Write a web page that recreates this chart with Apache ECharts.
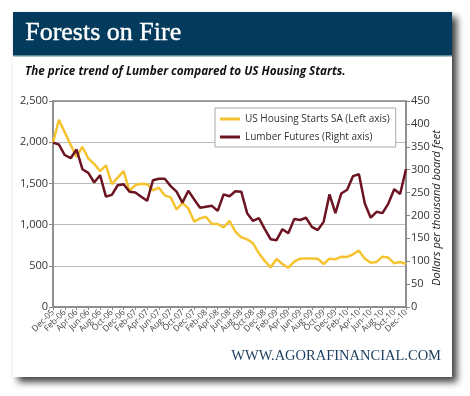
<!DOCTYPE html>
<html>
<head>
<meta charset="utf-8">
<script src="https://cdn.jsdelivr.net/npm/echarts@6/dist/echarts.min.js"></script>
<style>
html,body{margin:0;padding:0;background:#fff;}
#c{width:470px;height:396px;}
</style>
</head>
<body>
<div id="c"></div>
<script>
const months = ['Dec-05','Jan-06','Feb-06','Mar-06','Apr-06','May-06','Jun-06','Jul-06','Aug-06','Sep-06','Oct-06','Nov-06',
'Dec-06','Jan-07','Feb-07','Mar-07','Apr-07','May-07','Jun-07','Jul-07','Aug-07','Sep-07','Oct-07','Nov-07',
'Dec-07','Jan-08','Feb-08','Mar-08','Apr-08','May-08','Jun-08','Jul-08','Aug-08','Sep-08','Oct-08','Nov-08',
'Dec-08','Jan-09','Feb-09','Mar-09','Apr-09','May-09','Jun-09','Jul-09','Aug-09','Sep-09','Oct-09','Nov-09',
'Dec-09','Jan-10','Feb-10','Mar-10','Apr-10','May-10','Jun-10','Jul-10','Aug-10','Sep-10','Oct-10','Nov-10','Dec-10'];

const housingStarts = [1994,2273,2119,1969,1821,1942,1802,1737,1650,1720,1491,1570,
1649,1409,1480,1495,1490,1415,1448,1354,1330,1183,1264,1197,
1037,1076,1096,1007,1007,967,1044,914,846,821,773,651,
558,482,582,522,477,550,587,590,590,587,522,587,
578,611,607,640,684,587,538,547,611,600,530,547,522];

const lumberFutures = [359,355,332,325,344,301,293,272,288,241,245,266,
268,252,250,241,232,277,280,280,264,252,228,254,
235,217,219,221,210,246,242,253,252,205,188,194,
170,148,146,170,161,192,190,195,175,168,186,246,
205,248,256,286,290,226,195,208,205,226,257,247,301];

const chartTitle = 'Forests on Fire';
const chartSubtitle = 'The price trend of Lumber compared to US Housing Starts.';
const footerText = 'WWW.AGORAFINANCIAL.COM';
const seriesNames = ['US Housing Starts SA (Left axis)', 'Lumber Futures (Right axis)'];
const rightAxisName = 'Dollars per thousand board feet';

const chart = echarts.init(document.getElementById('c'));
chart.setOption({
  animation: false,
  backgroundColor: '#ffffff',
  graphic: [
    { type: 'rect', z: 0, shape: { x: 13, y: 12, width: 439, height: 365 },
      style: { fill: '#ffffff', shadowBlur: 7, shadowOffsetX: 5, shadowOffsetY: 5, shadowColor: 'rgba(0,0,0,0.75)' } },
    { type: 'rect', z: 1, shape: { x: 13, y: 12, width: 439, height: 44 },
      style: { fill: '#043a5b' } },
    { type: 'rect', z: 1, shape: { x: 13, y: 55, width: 439, height: 1.5 },
      style: { fill: '#5d8796' } },
    { type: 'text', z: 2, left: 25, top: 20,
      style: { text: chartTitle, fill: '#ffffff', font: '26px "Liberation Serif"',
        stroke: '#ffffff', lineWidth: 0.4,
        shadowColor: 'rgba(0,0,0,0.9)', shadowBlur: 2, shadowOffsetX: 1.5, shadowOffsetY: 1.5 } },
    { type: 'text', z: 2, x: 25, y: 65, scaleX: 0.9,
      style: { text: chartSubtitle, fill: '#111111', font: 'italic bold 13px "Open Sans"' } },
    { type: 'text', z: 2, right: 29, top: 349,
      style: { text: footerText, fill: '#1b3d5e', font: '14.5px "Liberation Serif"' } }
  ],
  grid: { left: 53, right: 64, top: 101, bottom: 89, show: true, borderColor: '#888', borderWidth: 1.5, z: 3 },
  legend: {
    left: 215, top: 108, orient: 'vertical', itemGap: 8, itemWidth: 20, itemHeight: 3, icon: 'rect',
    borderColor: '#aaa', borderWidth: 1, padding: [6, 6, 5, 5], backgroundColor: '#fff',
    textStyle: { fontSize: 10, color: '#333', fontFamily: 'Open Sans', padding: [0, 0, 0, 0] },
    data: seriesNames
  },
  xAxis: {
    type: 'category', data: months, boundaryGap: false,
    axisLine: { lineStyle: { color: '#888', width: 1.5 } },
    axisTick: { show: true, interval: 1, length: 3, lineStyle: { color: '#888' } },
    axisLabel: { interval: 0, rotate: 45, fontSize: 8.5, color: '#444', margin: 4, fontFamily: 'Open Sans',
      hideOverlap: false, formatter: (v, i) => (i % 2 === 0 ? v : '') },
    splitLine: { show: false }
  },
  yAxis: [
    { type: 'value', min: 0, max: 2500, interval: 500,
      axisLine: { show: true, lineStyle: { color: '#888', width: 1.5 } },
      axisTick: { show: true, length: 4, lineStyle: { color: '#888' } },
      axisLabel: { fontSize: 11, color: '#333', margin: 5, fontFamily: 'Open Sans',
        formatter: v => v.toLocaleString('en-US') },
      splitLine: { show: true, lineStyle: { color: '#bbbbbb', width: 1 } } },
    { type: 'value', min: 0, max: 450, interval: 50, position: 'right',
      name: rightAxisName, nameLocation: 'middle', nameRotate: 90, nameGap: 25, nameMoveOverlap: false,
      nameTextStyle: { fontSize: 11, fontStyle: 'italic', color: '#222', fontFamily: 'Open Sans', padding: [0, 8, 0, 0] },
      axisLine: { show: true, lineStyle: { color: '#888', width: 1.5 } },
      axisTick: { show: true, length: 4, lineStyle: { color: '#888' } },
      axisLabel: { fontSize: 11, color: '#333', margin: 5, fontFamily: 'Open Sans' },
      splitLine: { show: false } }
  ],
  series: [
    { name: seriesNames[0], type: 'line', yAxisIndex: 0, data: housingStarts, symbol: 'none',
      lineStyle: { color: '#f6c330', width: 2.5 }, itemStyle: { color: '#f6c330' }, z: 4 },
    { name: seriesNames[1], type: 'line', yAxisIndex: 1, data: lumberFutures, symbol: 'none',
      lineStyle: { color: '#6c1422', width: 2.5 }, itemStyle: { color: '#6c1422' }, z: 5 }
  ]
});
</script>
</body>
</html>
